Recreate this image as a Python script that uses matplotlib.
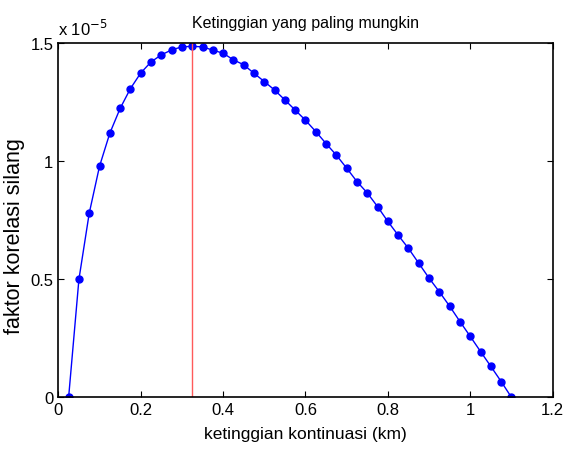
import numpy as np
import matplotlib
matplotlib.use('Agg')
import matplotlib.pyplot as plt

# data (y in units of 1e-5)
ketinggian = np.arange(1, 45) * 0.025
faktor = [0.0, 0.50, 0.78, 0.979, 1.119, 1.224, 1.308, 1.374, 1.421, 1.451,
          1.472, 1.485, 1.487, 1.485, 1.471, 1.458, 1.430, 1.409, 1.373, 1.338,
          1.302, 1.260, 1.217, 1.174, 1.126, 1.075, 1.026, 0.971, 0.914, 0.866,
          0.808, 0.745, 0.687, 0.631, 0.568, 0.505, 0.447, 0.386, 0.321, 0.258,
          0.194, 0.131, 0.067, 0.0]
puncak = 0.325
xticks = [0, 0.2, 0.4, 0.6, 0.8, 1.0, 1.2]
xticklabels = ['0', '0.2', '0.4', '0.6', '0.8', '1', '1.2']
yticks = [0, 0.5, 1.0, 1.5]
yticklabels = ['0', '0.5', '1', '1.5']

plt.rcParams['font.family'] = ['Liberation Sans', 'DejaVu Sans']

fig = plt.figure(figsize=(5.63, 4.60), dpi=100)
ax = fig.add_axes([0.1036, 0.1341, 0.878, 0.7696])

ax.plot(ketinggian, faktor, color='blue', lw=1, marker='o', ms=5, mfc='blue', mec='blue')
ax.axvline(puncak, color='#ff5a5a', lw=1)

ax.set_xlim(0, 1.2)
ax.set_ylim(0, 1.5)
ax.set_xticks(xticks)
ax.set_xticklabels(xticklabels)
ax.set_yticks(yticks)
ax.set_yticklabels(yticklabels)
ax.tick_params(direction='in', top=True, right=True, labelsize=12, length=4, width=0.8)
for s in ax.spines.values():
    s.set_linewidth(1.2)

ax.set_title('Ketinggian yang paling mungkin', fontsize=11.5, pad=12)
ax.set_xlabel('ketinggian kontinuasi (km)', fontsize=12.5, labelpad=6)
ax.set_ylabel('faktor korelasi silang', fontsize=15.5)
ax.yaxis.set_label_coords(-0.068, 0.458)
ax.text(0.0, 1.015, r'x 10$^{-5}$', transform=ax.transAxes, fontsize=12,
        ha='left', va='bottom')

fig.savefig('out.png', dpi=100)
